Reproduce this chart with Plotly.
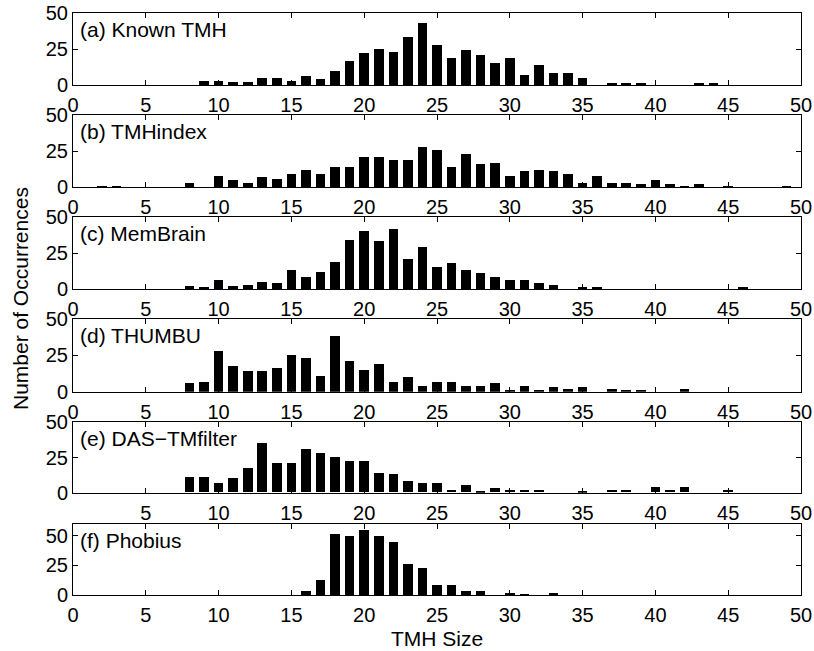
import plotly.graph_objects as go

# TMH sizes (residues) used as histogram bins
tmh_size = list(range(1, 51))

# Occurrence counts per TMH size, one list per method (index 0 -> size 1)
known_tmh = [0, 0, 0, 0, 0, 0, 0, 0, 3, 3,
             2, 2, 5, 5, 3, 6, 4, 10, 17, 22,
             25, 23, 33, 43, 28, 19, 24, 21, 15, 19,
             7, 14, 8, 8, 5, 0, 1, 1, 1, 0,
             0, 0, 1, 1, 0, 0, 0, 0, 0, 0]
tmhindex = [0, 1, 1, 0, 0, 0, 0, 3, 0, 8,
            5, 3, 7, 6, 9, 12, 9, 14, 14, 21,
            21, 19, 19, 28, 26, 14, 23, 16, 17, 8,
            11, 12, 11, 9, 3, 8, 3, 3, 2, 5,
            2, 1, 2, 0, 1, 0, 0, 0, 1, 0]
membrain = [0, 0, 0, 0, 0, 0, 0, 2, 1, 6,
            2, 3, 5, 4, 13, 8, 12, 19, 34, 40,
            33, 42, 21, 29, 15, 18, 13, 11, 8, 6,
            6, 4, 3, 0, 1, 1, 0, 0, 0, 0,
            0, 0, 0, 0, 0, 1, 0, 0, 0, 0]
thumbu = [0, 0, 0, 0, 0, 0, 0, 6, 7, 28,
          18, 14, 14, 16, 25, 23, 11, 38, 21, 15,
          19, 7, 10, 4, 7, 7, 4, 4, 6, 1,
          4, 1, 3, 2, 3, 0, 2, 1, 1, 0,
          0, 2, 0, 0, 0, 0, 0, 0, 0, 0]
das_tmfilter = [0, 0, 0, 0, 0, 0, 0, 11, 11, 7,
                10, 17, 35, 21, 21, 31, 28, 25, 22, 22,
                14, 13, 8, 7, 7, 2, 5, 1, 3, 2,
                2, 2, 0, 0, 1, 0, 2, 2, 0, 4,
                2, 4, 0, 0, 2, 0, 0, 0, 0, 0]
phobius = [0, 0, 0, 0, 0, 0, 0, 0, 0, 0,
           0, 0, 0, 0, 0, 4, 13, 52, 50, 55,
           50, 45, 26, 23, 9, 9, 4, 4, 0, 2,
           1, 0, 2, 0, 0, 0, 0, 0, 0, 0,
           0, 0, 0, 0, 0, 0, 0, 0, 0, 0]

panel_labels = ["(a) Known TMH", "(b) TMHindex", "(c) MemBrain",
                "(d) THUMBU", "(e) DAS\u2212TMfilter", "(f) Phobius"]
series = [known_tmh, tmhindex, membrain, thumbu, das_tmfilter, phobius]
y_max = [50, 50, 50, 50, 50, 60]
y_ticks = [0, 25, 50]
x_ticks_full = list(range(0, 51, 5))
x_ticks_e = list(range(5, 51, 5))

W, H = 814, 651
LEFT, RIGHT = 73, 801
# (top, bottom) pixel rows of each panel
panel_rows = [(13, 85), (115, 187.3), (217.3, 289.3),
              (319, 391.7), (422.3, 492.7), (523.7, 595)]

FONT = "Liberation Sans, Arial, Helvetica, sans-serif"
TICK_SIZE = 20
LABEL_SIZE = 21

fig = go.Figure()
layout = dict(
    width=W, height=H, autosize=False,
    margin=dict(l=0, r=0, t=0, b=0),
    paper_bgcolor="white", plot_bgcolor="white",
    showlegend=False, bargap=0,
    font=dict(family=FONT, size=TICK_SIZE, color="black"),
    annotations=[],
)

for i, (vals, lab) in enumerate(zip(series, panel_labels)):
    n = i + 1
    xa = "x" if n == 1 else f"x{n}"
    ya = "y" if n == 1 else f"y{n}"
    fig.add_trace(go.Bar(
        x=tmh_size, y=vals, width=0.66,
        marker=dict(color="black", line=dict(width=0)),
        xaxis=xa, yaxis=ya, hoverinfo="x+y",
    ))
    top, bot = panel_rows[i]
    common = dict(
        showline=True, linecolor="black", linewidth=1, mirror="ticks",
        ticks="inside", ticklen=5, tickwidth=1, tickcolor="black",
        showgrid=False, zeroline=False, fixedrange=True, automargin=False,
        tickfont=dict(family=FONT, size=TICK_SIZE, color="black"),
    )
    layout["xaxis" if n == 1 else f"xaxis{n}"] = dict(
        common, domain=[LEFT / W, RIGHT / W], range=[0, 50],
        tickmode="array", tickvals=x_ticks_e if n == 5 else x_ticks_full,
        anchor=ya, ticklabelstandoff=2,
    )
    layout["yaxis" if n == 1 else f"yaxis{n}"] = dict(
        common, domain=[(H - bot) / H, (H - top) / H], range=[0, y_max[i]],
        tickmode="array", tickvals=y_ticks, anchor=xa, ticklabelstandoff=0,
    )
    layout["annotations"].append(dict(
        text=lab, xref=f"{xa} domain", yref=f"{ya} domain",
        x=0, y=1, xanchor="left", yanchor="top", xshift=5, yshift=-3,
        showarrow=False, font=dict(family=FONT, size=LABEL_SIZE, color="black"),
    ))

layout["annotations"].append(dict(
    text="Number of Occurrences", xref="paper", yref="paper",
    x=20 / W, y=(H - 299) / H, xanchor="center", yanchor="middle",
    textangle=-90, showarrow=False,
    font=dict(family=FONT, size=LABEL_SIZE, color="black"),
))
layout["annotations"].append(dict(
    text="TMH Size", xref="paper", yref="paper",
    x=(LEFT + RIGHT) / 2 / W, y=(H - 638) / H, xanchor="center", yanchor="middle",
    showarrow=False, font=dict(family=FONT, size=LABEL_SIZE, color="black"),
))

fig.update_layout(**layout)
fig.write_html("out.html")
